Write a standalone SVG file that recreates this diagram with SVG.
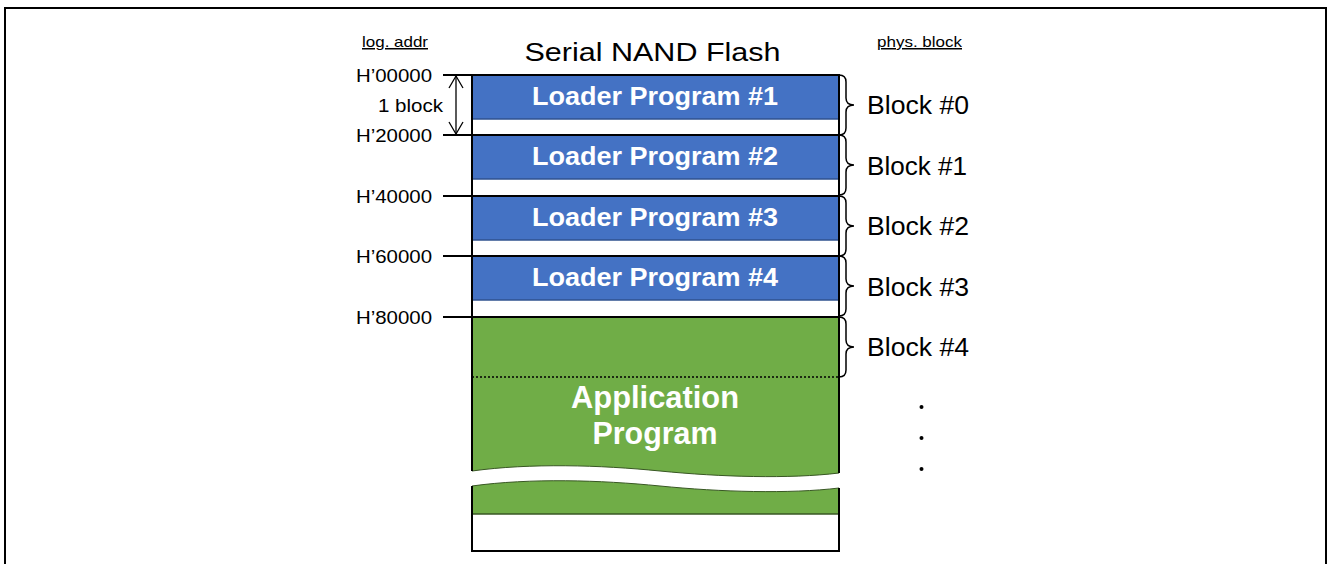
<svg xmlns="http://www.w3.org/2000/svg" width="1328" height="564" viewBox="0 0 1328 564">
<style>
.t{font-family:"Liberation Sans",Arial,sans-serif;fill:#000}
.addr{font-size:19px;text-anchor:end}
.blk{font-size:26px}
.ld{font-family:"Liberation Sans",Arial,sans-serif;font-weight:bold;font-size:25px;fill:#fff;text-anchor:middle}
.app{font-family:"Liberation Sans",Arial,sans-serif;font-weight:bold;font-size:31px;fill:#fff;text-anchor:middle}
.blue{fill:#4472C4}
.edge{stroke:#2F528F;stroke-width:1.5}
.ln{stroke:#000;stroke-width:2;fill:none}
.brace{stroke:#000;stroke-width:1.5;fill:none}
.small{font-size:15px;text-decoration:underline}
</style>
<defs>
<path id="br" d="M0,0 Q7,0 7,7 L7,23 Q7,30 15,30 Q7,30 7,37 L7,53 Q7,60 0,60"/>
</defs>
<rect x="5" y="8" width="1321" height="620" fill="#fff" stroke="#000" stroke-width="2"/>

<g id="headers">
<text class="t" x="652.5" y="61" font-size="26.5" text-anchor="middle" textLength="256" lengthAdjust="spacingAndGlyphs">Serial NAND Flash</text>
<text class="t small" x="362" y="47" textLength="66" lengthAdjust="spacingAndGlyphs">log. addr</text>
<text class="t small" x="877" y="47" textLength="85" lengthAdjust="spacingAndGlyphs">phys. block</text>
</g>

<g id="block0">
<rect class="blue" x="472" y="75" width="367" height="44"/>
<line class="edge" x1="472" y1="119" x2="839" y2="119"/>
<text class="ld" x="655" y="105" textLength="246" lengthAdjust="spacingAndGlyphs">Loader Program #1</text>
</g>
<g id="block1">
<rect class="blue" x="472" y="135" width="367" height="44"/>
<line class="edge" x1="472" y1="179" x2="839" y2="179"/>
<text class="ld" x="655" y="165" textLength="246" lengthAdjust="spacingAndGlyphs">Loader Program #2</text>
</g>
<g id="block2">
<rect class="blue" x="472" y="196" width="367" height="44"/>
<line class="edge" x1="472" y1="240" x2="839" y2="240"/>
<text class="ld" x="655" y="226" textLength="246" lengthAdjust="spacingAndGlyphs">Loader Program #3</text>
</g>
<g id="block3">
<rect class="blue" x="472" y="256" width="367" height="44"/>
<line class="edge" x1="472" y1="300" x2="839" y2="300"/>
<text class="ld" x="655" y="286" textLength="246" lengthAdjust="spacingAndGlyphs">Loader Program #4</text>
</g>

<g id="application">
<path d="M472,317 L839,317 L839,473 C790,479 720,477 660,471 C600,465 530,463 472,471 Z" fill="#70AD47"/>
<path d="M472,471 C530,463 600,465 660,471 C720,477 790,479 839,473" fill="none" stroke="#385723" stroke-width="1"/>
<path d="M472,486 C530,478 600,480 660,486 C720,492 790,494 839,488 L839,514 L472,514 Z" fill="#70AD47"/>
<path d="M472,486 C530,478 600,480 660,486 C720,492 790,494 839,488" fill="none" stroke="#385723" stroke-width="1"/>
<line x1="472" y1="514" x2="839" y2="514" stroke="#385723" stroke-width="1.5"/>
<line x1="472" y1="377" x2="839" y2="377" stroke="#000" stroke-width="1.5" stroke-dasharray="2,2"/>
<text class="app" x="655" y="408" textLength="168" lengthAdjust="spacingAndGlyphs">Application</text>
<text class="app" x="655" y="444" textLength="125" lengthAdjust="spacingAndGlyphs">Program</text>
</g>

<g id="outline">
<line class="ln" x1="472" y1="74" x2="472" y2="471"/>
<line class="ln" x1="839" y1="74" x2="839" y2="473"/>
<line class="ln" x1="472" y1="486" x2="472" y2="552"/>
<line class="ln" x1="839" y1="488" x2="839" y2="552"/>
<line class="ln" x1="471" y1="551" x2="840" y2="551"/>
</g>

<g id="connectors">
<line class="ln" x1="443" y1="75" x2="839" y2="75"/>
<line class="ln" x1="443" y1="135" x2="839" y2="135"/>
<line class="ln" x1="443" y1="196" x2="839" y2="196"/>
<line class="ln" x1="443" y1="256" x2="839" y2="256"/>
<line class="ln" x1="443" y1="317" x2="839" y2="317"/>
<g stroke="#000" stroke-width="1.3" fill="none">
<line x1="456" y1="76" x2="456" y2="134"/>
<polyline points="449,88 456,76 463,88"/>
<polyline points="449,122 456,134 463,122"/>
</g>
<use href="#br" x="839" y="75" class="brace"/>
<use href="#br" x="839" y="135" class="brace"/>
<use href="#br" x="839" y="196" class="brace"/>
<use href="#br" x="839" y="256" class="brace"/>
<use href="#br" x="839" y="317" class="brace"/>
</g>

<g id="addresses">
<text class="t addr" x="432" y="82" textLength="76" lengthAdjust="spacingAndGlyphs">H’00000</text>
<text class="t addr" x="432" y="142" textLength="76" lengthAdjust="spacingAndGlyphs">H’20000</text>
<text class="t addr" x="432" y="203" textLength="76" lengthAdjust="spacingAndGlyphs">H’40000</text>
<text class="t addr" x="432" y="263" textLength="76" lengthAdjust="spacingAndGlyphs">H’60000</text>
<text class="t addr" x="432" y="324" textLength="76" lengthAdjust="spacingAndGlyphs">H’80000</text>
<text class="t addr" x="443" y="112" textLength="65" lengthAdjust="spacingAndGlyphs">1 block</text>
</g>

<g id="blocklabels">
<text class="t blk" x="867" y="114" textLength="102" lengthAdjust="spacingAndGlyphs">Block #0</text>
<text class="t blk" x="867" y="175" textLength="100" lengthAdjust="spacingAndGlyphs">Block #1</text>
<text class="t blk" x="867" y="235" textLength="102" lengthAdjust="spacingAndGlyphs">Block #2</text>
<text class="t blk" x="867" y="296" textLength="102" lengthAdjust="spacingAndGlyphs">Block #3</text>
<text class="t blk" x="867" y="356" textLength="102" lengthAdjust="spacingAndGlyphs">Block #4</text>
<circle cx="921.5" cy="407" r="2"/>
<circle cx="921.5" cy="438" r="2"/>
<circle cx="921.5" cy="469" r="2"/>
</g>
</svg>
